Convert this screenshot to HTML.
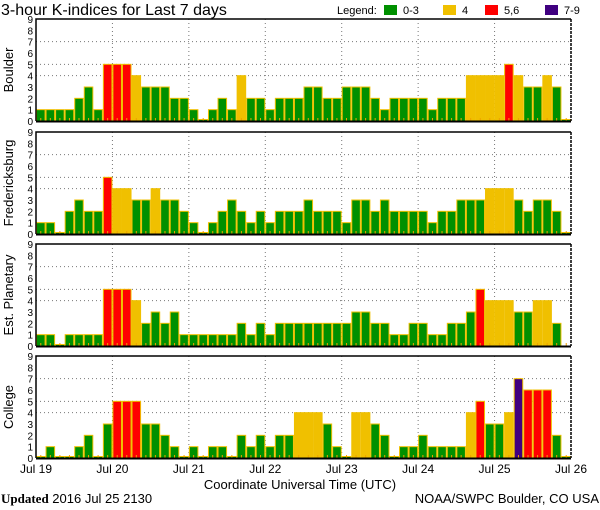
<!DOCTYPE html>
<html><head><meta charset="utf-8"><style>
html,body{margin:0;padding:0;background:#fff;}
svg{display:block;font-family:"Liberation Sans","DejaVu Sans",sans-serif;}
</style></head><body>
<svg id="chart" width="600" height="510" viewBox="0 0 600 510" xmlns="http://www.w3.org/2000/svg">
<text x="1" y="15" font-size="16" fill="#000">3-hour K-indices for Last 7 days</text>
<g>
<text x="337" y="14" font-size="11">Legend:</text>
<rect x="384" y="5" width="13" height="10" fill="#009000"/>
<text x="403" y="14" font-size="11">0-3</text>
<rect x="443" y="5" width="13" height="10" fill="#f0c000"/>
<text x="462" y="14" font-size="11">4</text>
<rect x="485" y="5" width="13" height="10" fill="#ff0000"/>
<text x="504" y="14" font-size="11">5,6</text>
<rect x="545" y="5" width="13" height="10" fill="#400080"/>
<text x="564" y="14" font-size="11">7-9</text>
</g>
<text x="300" y="489" font-size="13" text-anchor="middle">Coordinate Universal Time (UTC)</text>
<text x="1" y="503" font-size="13"><tspan font-family="Liberation Serif,serif" font-weight="bold">Updated</tspan> 2016 Jul 25 2130</text>
<text x="599" y="503" font-size="13" text-anchor="end">NOAA/SWPC Boulder, CO USA</text>
</svg>
<script>
const stations = ["Boulder","Fredericksburg","Est. Planetary","College"];
const boulder = [1,1,1,1,2,3,1,5,5,5,4,3,3,3,2,2,1,0,1,2,1,4,2,2,1,2,2,2,3,3,2,2,3,3,3,2,1,2,2,2,2,1,2,2,2,4,4,4,4,5,4,3,3,4,3,0];
const fredericksburg = [1,1,0,2,3,2,2,5,4,4,3,3,4,3,3,2,1,0,1,2,3,2,1,2,1,2,2,2,3,2,2,2,1,3,3,2,3,2,2,2,2,1,2,2,3,3,3,4,4,4,3,2,3,3,2,0];
const planetary = [1,1,0,1,1,1,1,5,5,5,4,2,3,2,3,1,1,1,1,1,1,2,1,2,1,2,2,2,2,2,2,2,2,3,3,2,2,1,1,2,2,1,1,2,2,3,5,4,4,4,3,3,4,4,2,null];
const college = [0,1,0,0,1,2,0,3,5,5,5,3,3,2,1,0,1,0,1,1,0,2,1,2,1,2,2,4,4,4,3,1,0,4,4,3,2,0,1,1,2,1,1,1,1,4,5,3,3,4,7,6,6,6,2,0];
const dayLabels = ["Jul 19","Jul 20","Jul 21","Jul 22","Jul 23","Jul 24","Jul 25","Jul 26"];
const yTicks = [0,1,2,3,4,5,6,7,8,9];

const series = [boulder,fredericksburg,planetary,college];
const NS="http://www.w3.org/2000/svg";
const svg=document.getElementById('chart');
const X0=36, X1=571, NB=56, panelTops=[19,132,244,356], PH=102;
const bw=(X1-X0)/NB;
function xScale(i){return X0+i*bw;}
function mk(t,a,p){const e=document.createElementNS(NS,t);for(const k in a)e.setAttribute(k,a[k]);(p||svg).appendChild(e);return e;}
function color(v){return v<=3?'#009000':v==4?'#f0c000':v<=6?'#ff0000':'#400080';}
series.forEach((data,pi)=>{
  const top=panelTops[pi], base=top+PH;
  const yScale=v=>base-v*PH/9;
  const g=mk('g',{});
  
  
  [4,5,7].forEach(v=>{const l=mk('line',{x1:X0,x2:X1,y1:yScale(v),y2:yScale(v),stroke:'#777','stroke-dasharray':'1,3'},g);
    
    });
  for(let d=1;d<7;d++){const x=xScale(d*8);const l=mk('line',{x1:x,x2:x,y1:top,y2:base,stroke:'#777','stroke-dasharray':'1,3'},g);
    
    }
  data.forEach((v,i)=>{
    if(v===null||v===undefined)return;
    const y=v===0?base-1.5:yScale(v);
    const r=mk('rect',{x:xScale(i)+0.5,y:y,width:bw-1,height:base-y,fill:color(v),stroke:'#f0c000','stroke-width':1},g);
    
    
  });
  for(let i=0;i<NB;i++){const x=xScale(i)+bw/2;const t=mk('line',{x1:x,x2:x,y1:base-3,y2:base,stroke:'#f0a000','stroke-width':1},g);
    
    }
  const f=mk('path',{d:`M${X0},${base} V${top} H${X1}`,fill:'none',stroke:'#000','stroke-width':1.5},g);
  
  
  const r2=mk('line',{x1:X1,x2:X1,y1:top,y2:base,stroke:'#000','stroke-width':1.5,'stroke-dasharray':'3,1'},g);
  
  
  const b=mk('line',{x1:X0,x2:X1,y1:base+0.5,y2:base+0.5,stroke:'#000','stroke-width':2},g);
  
  
  yTicks.forEach(v=>{const t=mk('text',{x:33,y:yScale(v)+4,'font-size':10,'text-anchor':'end'},g);t.textContent=v;
    
    });
  const cy=top+PH/2;
  const tt=mk('text',{x:0,y:0,'font-size':13,'text-anchor':'middle',transform:`translate(13,${cy}) rotate(-90)`},g);
  tt.textContent=stations[pi];
  
  
});
dayLabels.forEach((s,d)=>{const t=mk('text',{x:xScale(d*8),y:473,'font-size':12,'text-anchor':'middle'});t.textContent=s;
  
  });
</script>
</body></html>
